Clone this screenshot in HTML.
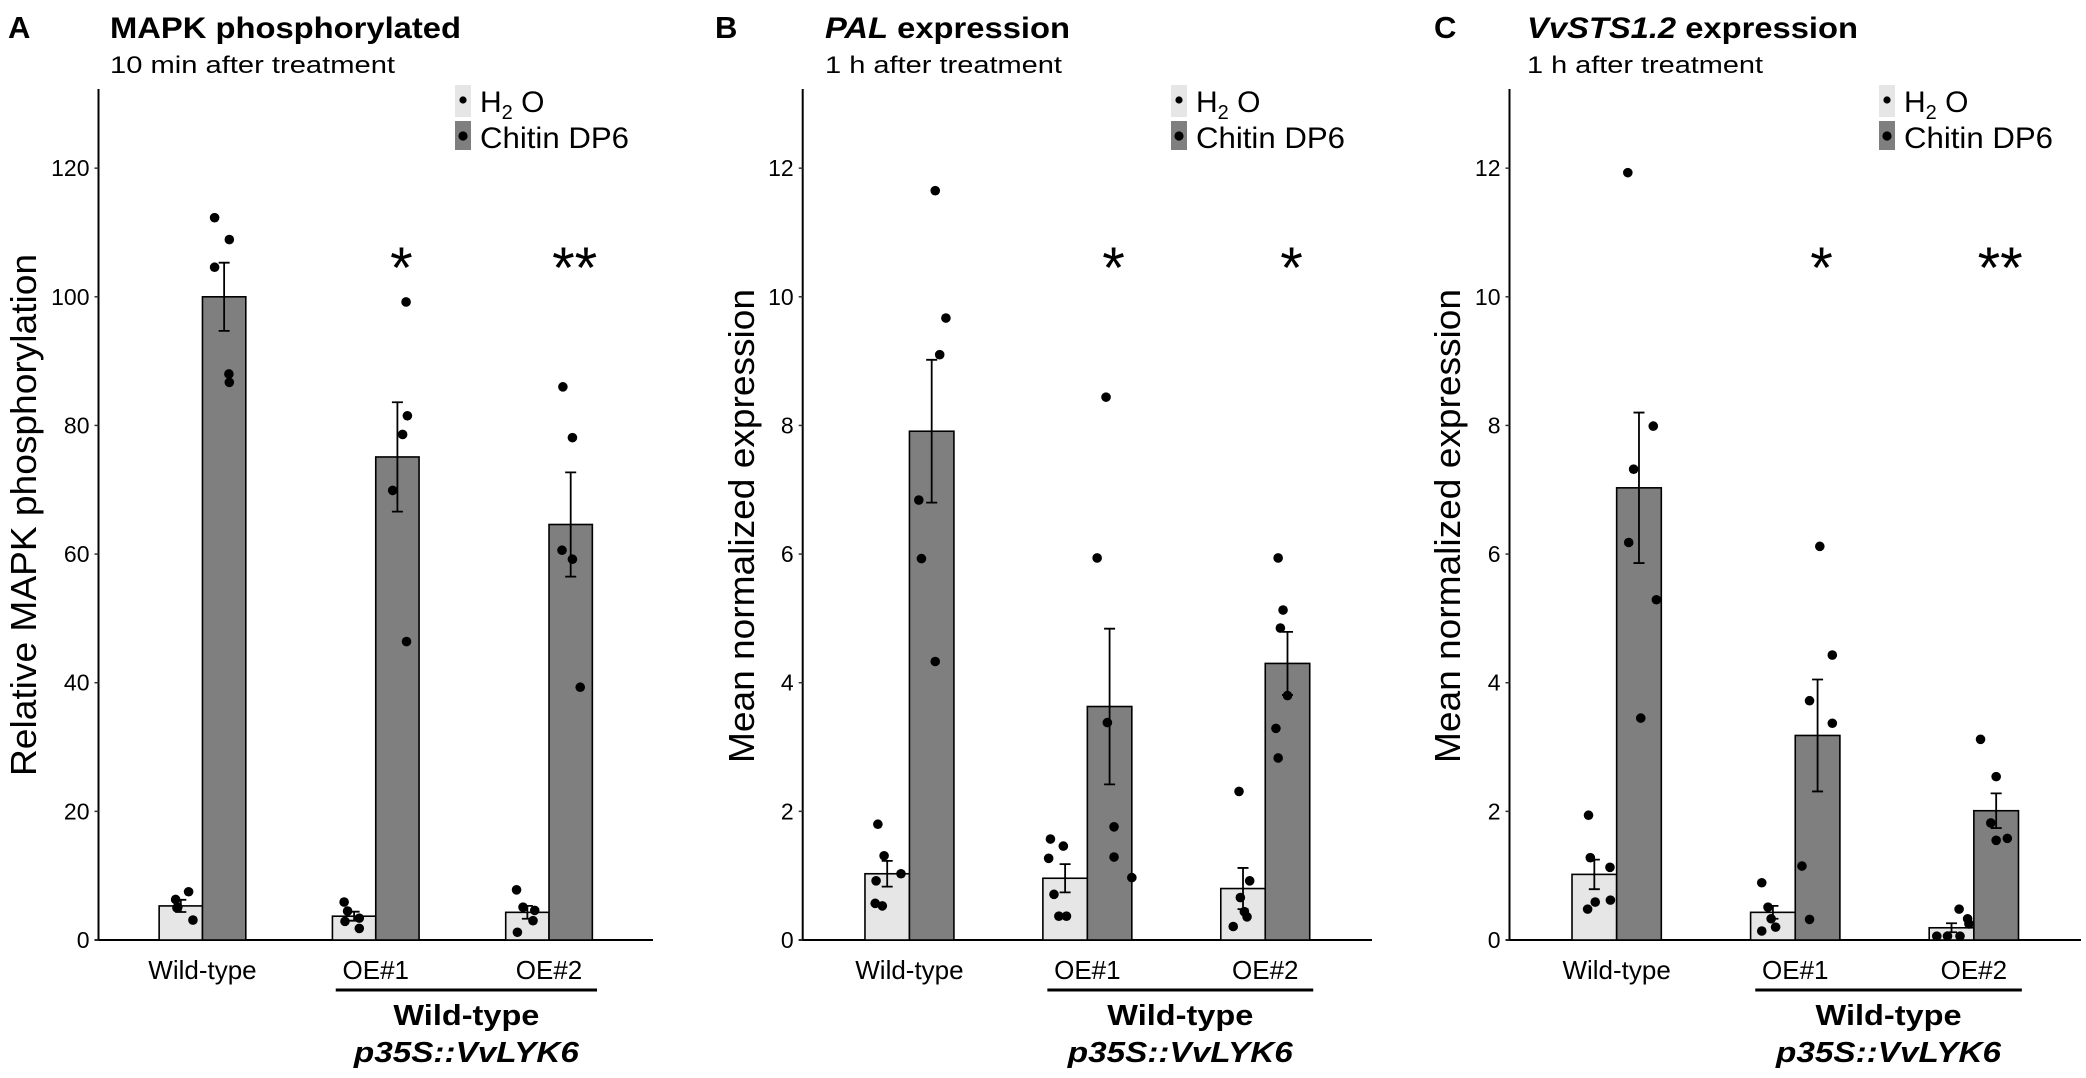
<!DOCTYPE html>
<html><head><meta charset="utf-8"><title>VvLYK6 chitin response</title>
<style>
html,body{margin:0;padding:0;background:#fff;}
svg{display:block;}
text{font-family:"Liberation Sans",Arial,sans-serif;fill:#000;}
</style></head>
<body>
<svg id="fig" xmlns="http://www.w3.org/2000/svg" width="2086" height="1078" viewBox="0 0 2086 1078"></svg>
<script>
// ---- shared data ----
const groups = ["Wild-type", "OE#1", "OE#2"];
const treatments = ["H2O", "Chitin DP6"];

// Panel A: MAPK phosphorylation
const aTicks = [0, 20, 40, 60, 80, 100, 120];
const aMeans = [[5.3, 100.0], [3.7, 75.1], [4.3, 64.6]];
const aErr = [[0.95, 5.3], [0.7, 8.5], [1.0, 8.1]];
const aPoints = [
  [[6.3, 5.0, 5.1, 7.5, 3.1], [112.3, 108.9, 104.6, 88.0, 86.7]],
  [[5.9, 4.5, 2.9, 3.4, 1.8], [99.2, 81.5, 78.6, 69.9, 46.4]],
  [[7.8, 5.1, 4.6, 3.0, 1.2], [86.0, 78.1, 60.6, 59.2, 39.3]]
];
const aJitter = [
  [[-0.12, -0.09, -0.07, 0.18, 0.28], [-0.22, 0.12, -0.22, 0.11, 0.12]],
  [[-0.23, -0.15, -0.21, 0.12, 0.12], [0.2, 0.23, 0.12, -0.11, 0.21]],
  [[-0.25, -0.1, 0.17, 0.13, -0.23], [-0.18, 0.04, -0.2, 0.04, 0.22]]
];
const aStars = ["", "*", "**"];

// Panel B: PAL expression
const bTicks = [0, 2, 4, 6, 8, 10, 12];
const bMeans = [[1.03, 7.91], [0.96, 3.63], [0.80, 4.30]];
const bErr = [[0.2, 1.11], [0.22, 1.21], [0.32, 0.49]];
const bPoints = [
  [[1.80, 1.31, 1.03, 0.92, 0.57, 0.53], [11.65, 9.67, 9.10, 6.84, 5.93, 4.33]],
  [[1.57, 1.46, 1.27, 0.71, 0.37, 0.37], [8.44, 5.94, 3.38, 1.76, 1.29, 0.97]],
  [[2.31, 0.92, 0.66, 0.44, 0.36, 0.21], [5.94, 5.13, 4.85, 3.80, 3.29, 2.83]]
];
const bJitter = [
  [[-0.21, -0.07, 0.31, -0.25, -0.27, -0.11], [0.08, 0.32, 0.18, -0.29, -0.23, 0.08]],
  [[-0.33, -0.04, -0.37, -0.25, -0.14, 0.03], [-0.08, -0.28, -0.05, 0.1, 0.1, 0.5]],
  [[-0.09, 0.15, -0.06, 0.03, 0.09, -0.22], [-0.21, -0.1, -0.16, 0.0, -0.26, -0.21]]
];
const bStars = ["", "*", "*"];

// Panel C: VvSTS1.2 expression
const cTicks = [0, 2, 4, 6, 8, 10, 12];
const cMeans = [[1.02, 7.03], [0.43, 3.18], [0.19, 2.01]];
const cErr = [[0.23, 1.17], [0.1, 0.87], [0.07, 0.27]];
const cPoints = [
  [[1.94, 1.28, 1.13, 0.62, 0.59, 0.48], [11.93, 7.99, 7.32, 6.18, 5.29, 3.45]],
  [[0.89, 0.51, 0.33, 0.20, 0.14], [6.12, 4.43, 3.72, 3.37, 1.15, 0.32]],
  [[0.48, 0.33, 0.25, 0.06, 0.06, 0.06], [3.12, 2.54, 1.82, 1.55, 1.58]]
];
const cJitter = [
  [[-0.13, -0.09, 0.35, 0.36, 0.02, -0.15], [-0.25, 0.32, -0.12, -0.23, 0.39, 0.04]],
  [[-0.25, -0.11, -0.04, 0.06, -0.25], [0.05, 0.33, -0.18, 0.33, -0.35, -0.18]],
  [[0.17, 0.36, 0.39, -0.33, -0.09, 0.19], [-0.35, 0.0, -0.12, 0.0, 0.25]]
];
const cStars = ["", "*", "**"];

const NS = "http://www.w3.org/2000/svg";
const svg = document.getElementById("fig");
function mk(tag, attrs, parent) {
  const e = document.createElementNS(NS, tag);
  for (const k in attrs) e.setAttribute(k, attrs[k]);
  (parent || svg).appendChild(e);
  return e;
}
const FILLS = ["#e6e6e6", "#7f7f7f"];
const BASE = 940, TOPY = 89;

function panel(p) {
  const g = mk("g", {});
  
  
  const x0 = p.axisX, x1 = p.axisEnd, W = x1 - x0;
  const yScale = v => BASE - v * p.pxPerUnit;
  const xCenter = i => x0 + W * (0.6 + i) / 3.2;
  const bw = W / 3.2 * 0.25;

  const L = mk("text", {x: p.letterX, y: 38, "font-size": 31, "font-weight": "bold"}, g);
  L.textContent = p.id;
  
  
  const T = mk("text", {x: p.titleX, y: 38, "font-size": 30, "font-weight": "bold", textLength: p.titleLen, lengthAdjust: "spacingAndGlyphs"}, g);
  T.innerHTML = p.titleHTML;
  
  
  const S = mk("text", {x: p.titleX, y: 73, "font-size": 24, textLength: p.subLen, lengthAdjust: "spacingAndGlyphs"}, g);
  S.textContent = p.sub;
  
  

  const ya = mk("line", {x1: x0, y1: TOPY, x2: x0, y2: BASE + 1, stroke: "#000", "stroke-width": 2}, g);
  
  
  const xa = mk("line", {x1: x0 - 4, y1: BASE, x2: x1, y2: BASE, stroke: "#000", "stroke-width": 2}, g);
  
  

  p.ticks.forEach(t => {
    const y = yScale(t);
    const tk = mk("line", {x1: x0 - 4, y1: y, x2: x0, y2: y, stroke: "#333", "stroke-width": 1.5}, g);
    
    
    const tl = mk("text", {x: x0 - 9, y: y + 8, "font-size": 23, "text-anchor": "end"}, g);
    tl.textContent = t;
    
    
  });

  const yt = mk("text", {x: 0, y: 0, "font-size": 36, "text-anchor": "middle", textLength: p.yTitleLen, lengthAdjust: "spacingAndGlyphs", transform: `translate(${p.yTitleX},${p.yTitleY}) rotate(-90)`}, g);
  yt.textContent = p.yTitle;
  
  

  groups.forEach((gn, i) => {
    treatments.forEach((tn, j) => {
      const bx = xCenter(i) + (j === 0 ? -bw : 0);
      const v = p.means[i][j];
      const r = mk("rect", {x: bx, y: yScale(v), width: bw, height: BASE - yScale(v), fill: FILLS[j], stroke: "#000", "stroke-width": 1.6}, g);
      
      
    });
  });
  groups.forEach((gn, i) => {
    treatments.forEach((tn, j) => {
      const cx0 = xCenter(i) + (j === 0 ? -bw / 2 : bw / 2);
      p.points[i][j].forEach((v, k) => {
        const c = mk("circle", {cx: cx0 + p.jitter[i][j][k] * bw, cy: yScale(v), r: 4.8, fill: "#000"}, g);
        
        
      });
    });
  });
  groups.forEach((gn, i) => {
    treatments.forEach((tn, j) => {
      const cx = xCenter(i) + (j === 0 ? -bw / 2 : bw / 2);
      const m = p.means[i][j], e = p.err[i][j];
      const yt1 = yScale(m + e), yb = yScale(m - e);
      const eb = mk("path", {d: `M${cx - 5.5},${yt1}H${cx + 5.5}M${cx},${yt1}V${yb}M${cx - 5.5},${yb}H${cx + 5.5}`, stroke: "#000", "stroke-width": 1.8, fill: "none"}, g);
      
      
    });
    if (p.stars[i]) {
      const st = mk("text", {x: xCenter(i) + bw / 2 + 4, y: 288, "font-size": 58, "text-anchor": "middle"}, g);
      st.textContent = p.stars[i];
      
      
    }
    const xl = mk("text", {x: xCenter(i), y: 979, "font-size": 26, "text-anchor": "middle"}, g);
    xl.textContent = gn;
    
    
  });

  const bx1 = xCenter(1) - 40, bx2 = xCenter(2) + 48;
  const br = mk("line", {x1: bx1, y1: 990, x2: bx2, y2: 990, stroke: "#000", "stroke-width": 3}, g);
  
  
  const mid = (bx1 + bx2) / 2;
  const w1 = mk("text", {x: mid, y: 1025, "font-size": 29, "font-weight": "bold", "text-anchor": "middle", textLength: 146, lengthAdjust: "spacingAndGlyphs"}, g);
  w1.textContent = "Wild-type";
  
  
  const w2 = mk("text", {x: mid, y: 1062, "font-size": 29, "font-weight": "bold", "font-style": "italic", "text-anchor": "middle", textLength: 225, lengthAdjust: "spacingAndGlyphs"}, g);
  w2.textContent = "p35S::VvLYK6";
  
  

  const lg = mk("g", {}, g);
  
  
  const labels = ['H<tspan font-size="20" dy="7">2</tspan><tspan dy="-7"> O</tspan>', 'Chitin DP6'];
  [0, 1].forEach(j => {
    const ky = j === 0 ? 85 : 121;
    const kr = mk("rect", {x: p.legX, y: ky, width: 16, height: j === 0 ? 32 : 29, fill: FILLS[j]}, lg);
    
    
    const kd = mk("circle", {cx: p.legX + 8, cy: ky + 15, r: j === 0 ? 3.6 : 4.6, fill: "#000"}, lg);
    
    
    const lt = mk("text", {x: p.legX + 25, y: j === 0 ? 112 : 148, "font-size": 30}, lg);
    lt.innerHTML = labels[j];
    if (j === 1) { lt.setAttribute("textLength", 149); lt.setAttribute("lengthAdjust", "spacingAndGlyphs"); }
    
    
  });
}

panel({id: "A", axisX: 98.5, axisEnd: 653, pxPerUnit: 6.432, ticks: aTicks, means: aMeans, err: aErr, points: aPoints, jitter: aJitter, stars: aStars,
  letterX: 8, titleX: 110, titleLen: 351, titleHTML: "MAPK phosphorylated", sub: "10 min after treatment", subLen: 285,
  yTitle: "Relative MAPK phosphorylation", yTitleX: 36, yTitleY: 515, yTitleLen: 522, legX: 455});
panel({id: "B", axisX: 802.7, axisEnd: 1372, pxPerUnit: 64.32, ticks: bTicks, means: bMeans, err: bErr, points: bPoints, jitter: bJitter, stars: bStars,
  letterX: 715, titleX: 825, titleLen: 245, titleHTML: '<tspan font-style="italic">PAL</tspan> expression', sub: "1 h after treatment", subLen: 237,
  yTitle: "Mean normalized expression", yTitleX: 754, yTitleY: 526, yTitleLen: 474, legX: 1171});
panel({id: "C", axisX: 1509.5, axisEnd: 2081, pxPerUnit: 64.32, ticks: cTicks, means: cMeans, err: cErr, points: cPoints, jitter: cJitter, stars: cStars,
  letterX: 1434, titleX: 1527, titleLen: 331, titleHTML: '<tspan font-style="italic">VvSTS1.2</tspan> expression', sub: "1 h after treatment", subLen: 236,
  yTitle: "Mean normalized expression", yTitleX: 1460, yTitleY: 526, yTitleLen: 474, legX: 1879});
</script>
</body></html>
